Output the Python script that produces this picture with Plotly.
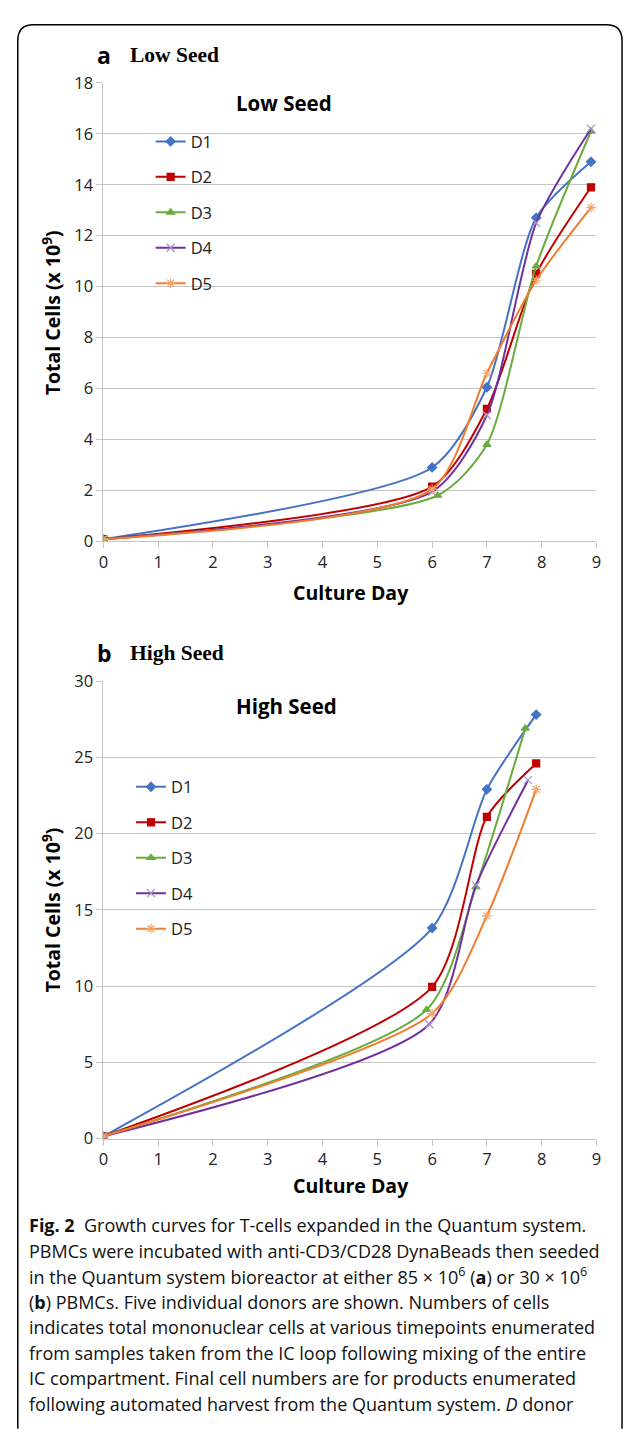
import plotly.graph_objects as go

W, H = 629, 1430

donors = ["D1", "D2", "D3", "D4", "D5"]
colors = ["#4472C4", "#C00000", "#6AAB3E", "#7030A0", "#F07D2E"]
marker_colors = ["#4472C4", "#C00000", "#6AAB3E", "#A58FD0", "#F5A36A"]
symbols = ["diamond", "square", "triangle-up", "x-thin", "asterisk"]

# Panel a: Low Seed
days_a = [
    [0, 6, 7, 7.9, 8.9],
    [0, 6, 7, 7.9, 8.9],
    [0, 6.1, 7, 7.9, 8.9],
    [0, 6, 7, 7.9, 8.9],
    [0, 6, 7, 7.9, 8.9],
]
cells_a = [
    [0.085, 2.9, 6.05, 12.7, 14.9],
    [0.085, 2.15, 5.2, 10.5, 13.9],
    [0.085, 1.8, 3.8, 10.8, 16.1],
    [0.085, 1.95, 4.95, 12.5, 16.2],
    [0.085, 2.05, 6.6, 10.25, 13.1],
]

# Panel b: High Seed
days_b = [
    [0, 6, 7, 7.9],
    [0, 6, 7, 7.9],
    [0, 5.9, 6.8, 7.7],
    [0, 5.95, 6.8, 7.75],
    [0, 6, 7, 7.9],
]
cells_b = [
    [0.15, 13.8, 22.9, 27.8],
    [0.15, 9.95, 21.1, 24.6],
    [0.15, 8.45, 16.5, 26.9],
    [0.15, 7.5, 16.6, 23.5],
    [0.15, 8.2, 14.6, 22.9],
]

x_ticks = list(range(0, 10))
y_ticks_a = list(range(0, 19, 2))
y_ticks_b = list(range(0, 31, 5))

caption_lines = [
    "<b>Fig. 2</b>  Growth curves for T-cells expanded in the Quantum system.",
    "PBMCs were incubated with anti-CD3/CD28 DynaBeads then seeded",
    "in the Quantum system bioreactor at either 85 × 10<sup>6</sup> (<b>a</b>) or 30 × 10<sup>6</sup>",
    "(<b>b</b>) PBMCs. Five individual donors are shown. Numbers of cells",
    "indicates total mononuclear cells at various timepoints enumerated",
    "from samples taken from the IC loop following mixing of the entire",
    "IC compartment. Final cell numbers are for products enumerated",
    "following automated harvest from the Quantum system. <i>D</i> donor",
]


def px(x):
    return x / W


def py(y):
    return 1 - y / H


SMOOTH = 0.7
fig = go.Figure()

for panel, days, cells, xa, ya, lg in [("a", days_a, cells_a, "x", "y", "legend"),
                                       ("b", days_b, cells_b, "x2", "y2", "legend2")]:
    for i, d in enumerate(donors):
        mk = dict(symbol=symbols[i], size=7 if i < 3 else 8, color=marker_colors[i],
                  line=dict(width=1.2, color=marker_colors[i]))
        fig.add_trace(go.Scatter(
            x=days[i], y=cells[i], name=d, mode="lines+markers",
            line=dict(color=colors[i], width=2, shape="spline", smoothing=SMOOTH),
            marker=mk, xaxis=xa, yaxis=ya, legend=lg, legendgroup=panel + d,
        ))

tickfont = dict(family="Open Sans", size=16.5, color="#222")
grid = "#C4C4C4"

xcommon = dict(range=[0, 9], tickvals=x_ticks, showline=True, linecolor=grid, linewidth=1,
               ticks="outside", ticklen=6, tickcolor=grid, showgrid=False, zeroline=False,
               tickfont=tickfont, domain=[px(100), px(601)], fixedrange=True)
ycommon = dict(showline=True, linecolor=grid, linewidth=1, ticks="outside", ticklen=6,
               tickcolor=grid, showgrid=True, gridcolor=grid, gridwidth=1, zeroline=False,
               tickfont=tickfont, fixedrange=True)

legend_style = dict(font=dict(family="Open Sans", size=16.5, color="#222"), bgcolor="rgba(0,0,0,0)",
                    itemwidth=30, tracegroupgap=11, traceorder="grouped", xanchor="left", yanchor="top")

fig.update_layout(
    width=W, height=H, margin=dict(l=0, r=0, t=0, b=0),
    paper_bgcolor="white", plot_bgcolor="white",
    showlegend=True,
    xaxis=dict(**xcommon, anchor="y"),
    yaxis=dict(**ycommon, range=[0, 18], tickvals=y_ticks_a, anchor="x", domain=[py(538), py(72)]),
    xaxis2=dict(**xcommon, anchor="y2"),
    yaxis2=dict(**ycommon, range=[0, 30], tickvals=y_ticks_b, anchor="x2", domain=[py(1145), py(680)]),
    legend=dict(**legend_style, x=px(148), y=py(114)),
    legend2=dict(**legend_style, x=px(128), y=py(770)),
)

ann = []
serif = dict(family="Liberation Serif", size=21.5, color="black")
for letter, label, yy in [("a", "Low Seed", 44), ("b", "High Seed", 651)]:
    ann.append(dict(text="<b>%s</b>" % letter, x=px(91), y=py(yy), xref="paper", yref="paper",
                    xanchor="left", yanchor="middle", showarrow=False,
                    font=dict(family="Open Sans", size=23, color="black")))
    ann.append(dict(text="<b>%s</b>" % label, x=px(125), y=py(yy), xref="paper", yref="paper",
                    xanchor="left", yanchor="middle", showarrow=False, font=serif))

for label, xx, yy in [("Low Seed", 283, 92), ("High Seed", 286, 705)]:
    ann.append(dict(text="<b>%s</b>" % label, x=px(xx), y=py(yy), xref="paper", yref="paper",
                    xanchor="center", yanchor="middle", showarrow=False,
                    font=dict(family="Open Sans", size=20.5, color="black")))

for yy in [590, 1193]:
    ann.append(dict(text="<b>Culture Day</b>", x=px(352), y=py(yy), xref="paper", yref="paper",
                    xanchor="center", yanchor="middle", showarrow=False,
                    font=dict(family="Open Sans", size=19.5, color="black")))

for yy in [306, 913]:
    ann.append(dict(text="<b>Total Cells (x 10<sup>9</sup>)</b>", x=px(47), y=py(yy), xref="paper", yref="paper",
                    xanchor="center", yanchor="middle", showarrow=False, textangle=-90,
                    font=dict(family="Open Sans", size=19.5, color="black")))

for k, line in enumerate(caption_lines):
    ann.append(dict(text=line, x=px(22), y=py(1233 + 25.9 * k), xref="paper", yref="paper",
                    xanchor="left", yanchor="middle", showarrow=False,
                    font=dict(family="Open Sans", size=18, color="#111")))

fig.update_layout(annotations=ann)

# rounded frame around the figure panel
r = 16
x0, y0, x1, y1 = px(13), py(13), px(627), py(1440)
rx, ry = r / W, r / H
path = (f"M {x0},{y1} L {x0},{y0 - ry} Q {x0},{y0} {x0 + rx},{y0} "
        f"L {x1 - rx},{y0} Q {x1},{y0} {x1},{y0 - ry} L {x1},{y1}")
fig.add_shape(type="path", path=path, xref="paper", yref="paper",
              line=dict(color="black", width=1.5))

fig.write_html("out.html")
